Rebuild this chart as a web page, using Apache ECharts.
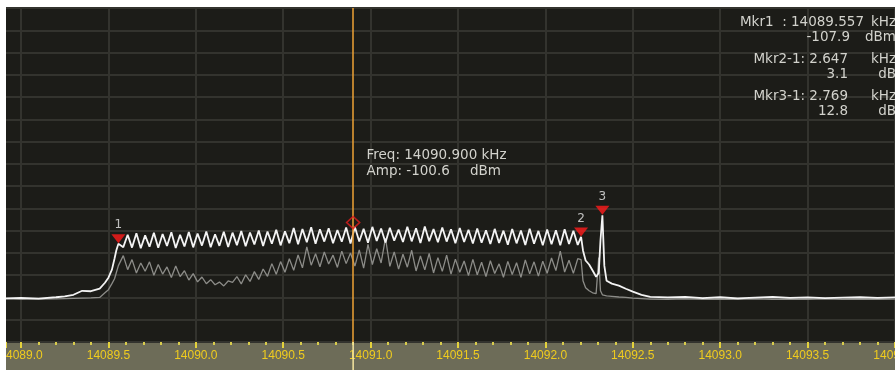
<!DOCTYPE html>
<html><head><meta charset="utf-8">
<script src="https://cdn.jsdelivr.net/npm/echarts@6/dist/echarts.min.js"></script>
<style>html,body{margin:0;padding:0;background:#fff;}#c{width:895px;height:370px;}</style>
</head><body><div id="c"></div>
<script>
// ---- frequency samples (kHz) shared by both traces ----
const freqKHz = [
  14088.914, 14089.0, 14089.1, 14089.2, 14089.25, 14089.3, 14089.35, 14089.4, 14089.45, 14089.48,
  14089.5, 14089.52, 14089.535, 14089.545, 14089.557, 14089.585,
  14089.61, 14089.635, 14089.66, 14089.685, 14089.71, 14089.735, 14089.76, 14089.785, 14089.81, 14089.835,
  14089.86, 14089.885, 14089.91, 14089.935, 14089.96, 14089.985, 14090.01, 14090.035, 14090.06, 14090.085,
  14090.11, 14090.135, 14090.16, 14090.185, 14090.21, 14090.235, 14090.26, 14090.285, 14090.31, 14090.335,
  14090.36, 14090.385, 14090.41, 14090.435, 14090.46, 14090.485, 14090.51, 14090.535, 14090.56, 14090.585,
  14090.61, 14090.635, 14090.66, 14090.685, 14090.71, 14090.735, 14090.76, 14090.785, 14090.81, 14090.835,
  14090.86, 14090.885, 14090.91, 14090.935, 14090.96, 14090.985, 14091.01, 14091.035, 14091.06, 14091.085,
  14091.11, 14091.135, 14091.16, 14091.185, 14091.21, 14091.235, 14091.26, 14091.285, 14091.31, 14091.335,
  14091.36, 14091.385, 14091.41, 14091.435, 14091.46, 14091.485, 14091.51, 14091.535, 14091.56, 14091.585,
  14091.61, 14091.635, 14091.66, 14091.685, 14091.71, 14091.735, 14091.76, 14091.785, 14091.81, 14091.835,
  14091.86, 14091.885, 14091.91, 14091.935, 14091.96, 14091.985, 14092.01, 14092.035, 14092.06, 14092.085,
  14092.11, 14092.135, 14092.16, 14092.185,
  14092.204, 14092.215, 14092.23, 14092.25, 14092.27, 14092.29, 14092.305, 14092.315, 14092.326, 14092.337,
  14092.35, 14092.38, 14092.42, 14092.46, 14092.5, 14092.55, 14092.6, 14092.7, 14092.8, 14092.9,
  14093.0, 14093.1, 14093.2, 14093.3, 14093.4, 14093.5, 14093.6, 14093.7, 14093.8, 14093.9, 14094.0
];

// ---- bright trace (dBm) ----
const traceBrightDbm = [
  -132.4, -132.2, -132.5, -131.9, -131.5, -130.8, -129.0, -129.2, -128.0, -125.4,
  -123.1, -119.5, -114.5, -110.9, -107.9, -109.4,
  -103.8, -109.6, -103.2, -109.9, -104.1, -109.2, -102.9, -109.7, -103.5, -108.9,
  -102.7, -109.8, -103.9, -109.1, -102.6, -109.5, -103.3, -108.7, -102.4, -109.4,
  -103.6, -108.8, -102.5, -109.3, -102.9, -108.5, -102.2, -109.0, -102.8, -108.2,
  -101.9, -108.9, -102.4, -107.9, -101.6, -108.6, -102.3, -107.6, -100.8, -108.1,
  -101.3, -107.2, -100.5, -107.9, -101.4, -106.9, -100.9, -107.6, -101.7, -107.0,
  -100.6, -107.8, -100.4, -106.9, -101.2, -107.4, -100.3, -106.6, -101.0, -107.3,
  -100.7, -106.5, -101.5, -107.1, -100.2, -106.8, -100.9, -107.5, -100.1, -106.7,
  -101.3, -107.2, -100.6, -106.9, -101.4, -107.6, -100.8, -107.1, -101.6, -107.8,
  -101.0, -107.4, -101.8, -108.0, -101.2, -107.5, -102.0, -108.3, -101.3, -107.7,
  -101.9, -108.4, -101.1, -107.9, -102.1, -108.6, -101.5, -108.1, -101.8, -108.5,
  -101.4, -108.0, -102.0, -108.4,
  -104.8, -110.9, -115.4, -117.2, -119.9, -122.7, -121.0, -106.4, -95.1, -117.7,
  -124.5, -125.8, -126.7, -128.1, -129.4, -130.8, -131.7, -132.0, -131.8, -132.3,
  -131.9, -132.4, -132.1, -131.8, -132.2, -132.0, -132.3, -132.1, -131.9, -132.2, -132.0
];

// ---- dim trace (dBm) ----
const traceDimDbm = [
  -132.6, -132.8, -132.7, -132.6, -132.5, -132.4, -132.3, -132.2, -132.0, -129.9,
  -128.5, -125.8, -123.6, -120.9, -117.7, -113.2,
  -119.5, -115.0, -121.0, -116.5, -120.2, -116.0, -122.0, -117.2, -121.5, -118.3,
  -123.0, -117.9, -122.6, -120.0, -124.2, -121.3, -125.0, -122.8, -125.8, -124.0,
  -126.3, -125.1, -126.8, -124.6, -125.2, -122.6, -125.9, -121.8, -124.8, -120.4,
  -123.9, -119.2, -122.5, -116.8, -121.6, -115.9, -120.7, -114.6, -119.8, -112.9,
  -118.7, -109.3, -117.5, -112.4, -118.2, -111.6, -117.0, -113.0, -118.5, -111.2,
  -116.8, -112.0, -117.9, -110.6, -118.8, -108.2, -117.2, -110.1, -116.5, -105.4,
  -118.0, -111.5, -119.3, -112.6, -118.4, -110.8, -120.1, -113.4, -119.6, -112.2,
  -121.0, -114.1, -120.3, -113.0, -121.5, -114.8, -120.7, -115.6, -122.2, -114.9,
  -121.8, -116.2, -122.6, -115.5, -121.2, -116.9, -122.9, -115.8, -121.7, -116.4,
  -123.0, -115.1, -121.4, -116.0, -122.4, -115.7, -121.1, -114.3, -119.9, -111.2,
  -120.6, -115.3, -121.2, -114.6,
  -115.0, -124.5, -127.6, -129.0, -129.9, -130.3, -114.1, -129.0, -130.8, -131.0,
  -131.3, -131.5, -131.8, -132.0, -132.3, -132.5, -132.7, -132.8, -132.6, -132.9,
  -132.7, -132.8, -132.6, -132.9, -132.7, -132.8, -132.6, -132.9, -132.7, -132.8, -132.7
];

// ---- markers and cursor ----
const markerNames = ['1', '2', '3'];
const markerFreq = [14089.557, 14092.204, 14092.326];
const markerAmp = [-107.9, -104.8, -95.1];
const cursorFreq = 14090.900;
const cursorAmp = -100.6;

// ---- axis ranges ----
const freqMin = 14088.914, freqMax = 14094.0;
const ampTop = -2, ampBottom = -152;   // 10 dB / division
const ampDivisions = 15;

if (traceBrightDbm.length !== freqKHz.length || traceDimDbm.length !== freqKHz.length) {
  throw new Error('length mismatch ' + freqKHz.length + ' ' + traceBrightDbm.length + ' ' + traceDimDbm.length);
}

const FONT = '"DejaVu Sans", Verdana, sans-serif';
const textCol = '#d2d2cc';
const readFont = 'normal 13.5px ' + FONT;

const readout = [
  ['Mkr1  : ' + markerFreq[0].toFixed(3), 864, 22, 'kHz'],
  [markerAmp[0].toFixed(1), 850, 37, 'dBm'],
  ['Mkr2-1: ' + (markerFreq[1] - markerFreq[0]).toFixed(3), 848, 59, 'kHz'],
  [(markerAmp[1] - markerAmp[0]).toFixed(1), 848, 74, 'dB'],
  ['Mkr3-1: ' + (markerFreq[2] - markerFreq[0]).toFixed(3), 848, 96.5, 'kHz'],
  [(markerAmp[2] - markerAmp[0]).toFixed(1), 848, 111, 'dB']
];

const graphics = [
  { type: 'rect', id: 'band', z: -1, silent: true, shape: { x: 6, y: 342, width: 889, height: 28 }, style: { fill: '#6d6c58' } },
  { type: 'rect', id: 'leftEdge', z: 100, silent: true, shape: { x: 0, y: 0, width: 6, height: 370 }, style: { fill: '#ffffff' } },
  { type: 'text', z: 100, x: 366.5, y: 155, style: { text: 'Freq: ' + cursorFreq.toFixed(3) + ' kHz', fill: textCol, font: readFont, textVerticalAlign: 'middle' } },
  { type: 'text', z: 100, x: 366.5, y: 171, style: { text: 'Amp: ' + cursorAmp.toFixed(1), fill: textCol, font: readFont, textVerticalAlign: 'middle' } },
  { type: 'text', z: 100, x: 470, y: 171, style: { text: 'dBm', fill: textCol, font: readFont, textVerticalAlign: 'middle' } }
];
readout.forEach(r => {
  graphics.push({ type: 'text', z: 100, x: r[1], y: r[2], style: { text: r[0], fill: textCol, font: readFont, textAlign: 'right', textVerticalAlign: 'middle' } });
  graphics.push({ type: 'text', z: 100, x: 896, y: r[2], style: { text: r[3], fill: textCol, font: readFont, textAlign: 'right', textVerticalAlign: 'middle' } });
});

const chart = echarts.init(document.getElementById('c'), null, { renderer: 'canvas' });
chart.setOption({
  animation: false,
  backgroundColor: '#ffffff',
  grid: { left: 6, right: 0, top: 8, bottom: 28, show: true, backgroundColor: '#1c1c18', borderWidth: 0,
    containLabel: false, outerBoundsMode: 'none' },
  xAxis: {
    type: 'value', min: freqMin, max: freqMax, splitNumber: 10,
    axisLine: { show: false },
    axisTick: { show: true, length: 6, lineStyle: { color: '#e4d23c', width: 2 } },
    minorTick: { show: true, splitNumber: 5, length: 3, lineStyle: { color: '#d8cc4c', width: 2 } },
    axisLabel: { color: '#f0cc1e', fontSize: 12, fontFamily: '"Liberation Sans", Arial, sans-serif', margin: 8,
      formatter: v => v.toFixed(1), showMinLabel: false, showMaxLabel: true },
    splitLine: { show: true, showMinLine: false, lineStyle: { color: '#33332e', width: 2 } }
  },
  yAxis: [
    { type: 'value', min: ampBottom, max: ampTop, show: false },
    { type: 'value', min: 0, max: ampDivisions, interval: 1, position: 'left',
      axisLine: { show: false }, axisTick: { show: false }, axisLabel: { show: false },
      splitLine: { show: true, lineStyle: { color: '#33332e', width: 2 } } }
  ],
  graphic: graphics,
  series: [
    { type: 'line', yAxisIndex: 0, data: freqKHz.map((f, i) => [f, traceDimDbm[i]]), showSymbol: false,
      lineStyle: { color: '#8c8c88', width: 1.3 }, z: 2 },
    { type: 'line', yAxisIndex: 0, data: freqKHz.map((f, i) => [f, traceBrightDbm[i]]), showSymbol: false,
      lineStyle: { color: '#f4f4f4', width: 1.8 }, z: 3 },
    { type: 'scatter', yAxisIndex: 0, z: 5, data: [[cursorFreq, cursorAmp]],
      symbol: 'diamond', symbolSize: [13, 12], symbolOffset: [0, -5],
      itemStyle: { color: 'rgba(0,0,0,0)', borderColor: '#e41c1c', borderWidth: 1.6 },
      markLine: { silent: true, symbol: 'none', animation: false, label: { show: false },
        lineStyle: { color: '#eea234', width: 1.5, type: 'solid' }, data: [{ xAxis: cursorFreq }] } },
    { type: 'scatter', yAxisIndex: 0, z: 6, data: markerFreq.map((f, i) => [f, markerAmp[i]]),
      symbol: 'path://M0,0L14,0L7,9Z', symbolSize: [14, 9], symbolOffset: [0, -5],
      itemStyle: { color: '#ff1c1c' },
      label: { show: true, position: 'top', distance: 3, formatter: p => markerNames[p.dataIndex],
        color: '#e8e8e8', fontSize: 12, fontFamily: FONT } }
  ]
});

// cursor continues through the frequency scale band (position from the axis scale)
const cursorPx = chart.convertToPixel({ xAxisIndex: 0 }, cursorFreq);
chart.setOption({
  graphic: [{ type: 'line', id: 'cursorBand', z: 50, silent: true,
    shape: { x1: cursorPx, y1: 342, x2: cursorPx, y2: 370 },
    style: { stroke: '#f6e6a0', lineWidth: 1.5 } }]
});
</script>
</body></html>
